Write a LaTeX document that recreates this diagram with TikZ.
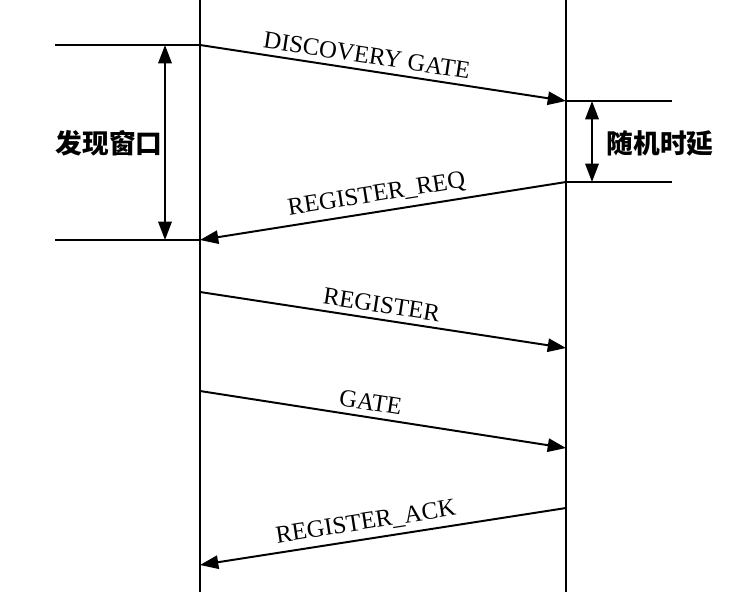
\documentclass[tikz,border=0pt]{standalone}
\usepackage{fontspec}
\setmainfont{Liberation Serif}
\newfontfamily\cjk{Noto Sans CJK SC}
\usetikzlibrary{arrows.meta}

\begin{document}
\begin{tikzpicture}[x=0.025cm, y=-0.025cm,
    life/.style={line width=1.5pt},
    msg/.style={line width=1.4pt, -{Triangle[length=13pt, width=9.5pt]}},
    msgback/.style={line width=1.4pt, {Triangle[length=13pt, width=9.5pt]}-},
    span/.style={line width=1.4pt, {Triangle[length=13pt, width=9.5pt]}-{Triangle[length=13pt, width=9.5pt]}},
    lbl/.style={above, sloped, inner sep=4pt, font=\fontsize{17.5}{19}\selectfont},
    cjklbl/.style={font=\cjk\bfseries\fontsize{19}{21}\selectfont}]
    \useasboundingbox (0,0) rectangle (742,592);

    % Lifelines
    \coordinate (lt) at (200,0);   \coordinate (lb) at (200,592);
    \coordinate (rt) at (566,0);   \coordinate (rb) at (566,592);
    \draw[life] (lt) -- (lb);
    \draw[life] (rt) -- (rb);

    % Message ends
    \coordinate (l1) at (200,45);  \coordinate (r1) at (566,101);
    \coordinate (r2) at (566,182); \coordinate (l2) at (200,240);
    \coordinate (l3) at (200,292); \coordinate (r3) at (566,348);
    \coordinate (l4) at (200,391); \coordinate (r4) at (566,448);
    \coordinate (r5) at (566,508); \coordinate (l5) at (200,565);

    % Discovery window
    \coordinate (wa) at (55,45);   \coordinate (wb) at (55,240);
    \coordinate (wtop) at (165,45); \coordinate (wbot) at (165,240);
    \draw[life] (wa) -- (l1);
    \draw[life] (wb) -- (l2);
    \draw[span] (wtop) -- (wbot);
    \node[cjklbl] (window) at (109,143) {发现窗口};

    % Random delay
    \coordinate (da) at (672,101); \coordinate (db) at (672,182);
    \coordinate (dtop) at (592,101); \coordinate (dbot) at (592,182);
    \draw[life] (r1) -- (da);
    \draw[life] (r2) -- (db);
    \draw[span] (dtop) -- (dbot);
    \node[cjklbl] (delay) at (660,143) {随机时延};

    % Messages
    \draw[msg] (l1) -- node[lbl, pos=0.45] (m1) {DISCOVERY GATE} (r1);
    \draw[msgback] (l2) -- node[lbl, pos=0.49] (m2) {REGISTER\_REQ} (r2);
    \draw[msg] (l3) -- node[lbl, pos=0.49] (m3) {REGISTER} (r3);
    \draw[msg] (l4) -- node[lbl, pos=0.46] (m4) {GATE} (r4);
    \draw[msgback] (l5) -- node[lbl, pos=0.46] (m5) {REGISTER\_ACK} (r5);
\end{tikzpicture}
\end{document}
